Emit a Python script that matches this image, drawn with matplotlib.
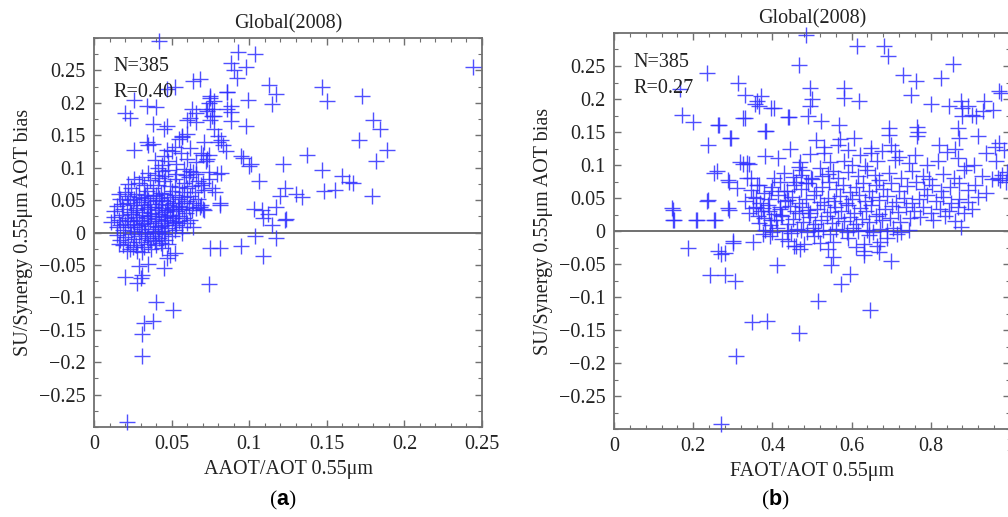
import matplotlib
matplotlib.use("Agg")
import matplotlib.pyplot as plt
from matplotlib.ticker import MultipleLocator, FuncFormatter

plt.rcParams['font.family'] = ['Liberation Serif', 'DejaVu Serif']
plt.rcParams['mathtext.fontset'] = 'custom'
plt.rcParams['mathtext.rm'] = 'Liberation Sans'
plt.rcParams['mathtext.bf'] = 'Liberation Sans:bold'

title = 'Global(2008)'
ylabel = 'SU/Synergy 0.55\u03bcm AOT bias'
xlabel_a = 'AAOT/AOT 0.55\u03bcm'
xlabel_b = 'FAOT/AOT 0.55\u03bcm'
stats_a = ['N=385', 'R=0.40']
stats_b = ['N=385', 'R=0.27']

# ---- panel (a): AAOT/AOT ratio vs bias ----
a_ratio = [
    0.042, 0.093, 0.104, 0.088, 0.098, 0.090, 0.092, 0.244, 0.064, 0.068,
    0.047, 0.052, 0.113, 0.117, 0.147, 0.150, 0.173, 0.115, 0.099, 0.086,
    0.088, 0.020, 0.023, 0.026, 0.034, 0.040, 0.075, 0.077, 0.063, 0.066,
    0.073, 0.077, 0.075, 0.062, 0.066, 0.060, 0.098, 0.038, 0.047, 0.045,
    0.026, 0.034, 0.035, 0.038, 0.057, 0.060, 0.055, 0.180, 0.184, 0.171,
    0.189, 0.182, 0.179, 0.137, 0.147, 0.122, 0.096, 0.101, 0.106, 0.160,
    0.164, 0.167, 0.155, 0.148, 0.123, 0.120, 0.130, 0.134, 0.081, 0.103,
    0.108, 0.117, 0.109, 0.115, 0.124, 0.123, 0.104, 0.117, 0.075, 0.081,
    0.095, 0.109, 0.020, 0.028, 0.030, 0.031, 0.029, 0.035, 0.045, 0.047,
    0.049, 0.052, 0.040, 0.051, 0.032, 0.038, 0.031, 0.031, 0.021, 0.074,
    # around x 0.07-0.09
    0.075, 0.074, 0.076, 0.076, 0.072, 0.086, 0.086, 0.088, 0.088, 0.077,
    0.080, 0.082, 0.083, 0.085, 0.070, 0.074, 0.072, 0.095, 0.100, 0.082,
    0.079, 0.074, 0.070, 0.068, 0.070, 0.081, 0.112,
    # cluster y 0.10-0.15
    0.041, 0.044, 0.048, 0.053, 0.050, 0.060, 0.069, 0.073, 0.064, 0.074,
    0.045, 0.056, 0.039, 0.066, 0.058, 0.047, 0.062, 0.052, 0.080, 0.057,
    0.071,
    # cluster y 0.06-0.10
    0.029, 0.032, 0.036, 0.041, 0.045, 0.049, 0.052, 0.055, 0.058, 0.061,
    0.063, 0.067, 0.071, 0.024, 0.020, 0.027, 0.034, 0.038, 0.043, 0.046,
    0.050, 0.053, 0.057, 0.060, 0.065, 0.069, 0.039, 0.044, 0.035, 0.031,
    0.048, 0.042, 0.016, 0.022, 0.026, 0.062, 0.076, 0.078, 0.059, 0.066,
    # cluster y 0.03-0.06
    0.013, 0.015, 0.017, 0.019, 0.021, 0.022, 0.024, 0.025, 0.026, 0.028,
    0.029, 0.030, 0.031, 0.032, 0.033, 0.034, 0.035, 0.036, 0.037, 0.038,
    0.039, 0.040, 0.041, 0.042, 0.043, 0.044, 0.045, 0.046, 0.047, 0.048,
    0.049, 0.050, 0.051, 0.052, 0.053, 0.054, 0.055, 0.056, 0.057, 0.058,
    0.059, 0.060, 0.061, 0.062, 0.063, 0.064, 0.066, 0.067, 0.069, 0.071,
    0.018, 0.023, 0.027, 0.032, 0.036, 0.040, 0.044, 0.047, 0.051, 0.055,
    # cluster y 0.00-0.03
    0.011, 0.013, 0.015, 0.016, 0.018, 0.019, 0.020, 0.021, 0.023, 0.024,
    0.025, 0.026, 0.027, 0.028, 0.029, 0.030, 0.031, 0.032, 0.033, 0.034,
    0.035, 0.036, 0.037, 0.038, 0.039, 0.040, 0.041, 0.042, 0.043, 0.044,
    0.045, 0.046, 0.047, 0.048, 0.049, 0.050, 0.051, 0.052, 0.053, 0.054,
    0.055, 0.057, 0.058, 0.060, 0.062, 0.064, 0.017, 0.022, 0.026, 0.031,
    0.035, 0.039, 0.043, 0.047, 0.052, 0.057,
    # cluster y -0.03-0.00
    0.015, 0.017, 0.019, 0.020, 0.022, 0.023, 0.024, 0.026, 0.027, 0.028,
    0.029, 0.030, 0.032, 0.033, 0.034, 0.035, 0.037, 0.038, 0.039, 0.040,
    0.042, 0.043, 0.045, 0.046, 0.048, 0.050, 0.021, 0.025, 0.031, 0.036,
    0.041, 0.044, 0.016,
]
a_bias = [
    0.296, 0.279, 0.276, 0.262, 0.256, 0.251, 0.239, 0.256, 0.233, 0.236,
    0.221, 0.224, 0.227, 0.213, 0.224, 0.203, 0.210, 0.198, 0.205, 0.216,
    0.195, 0.185, 0.177, 0.205, 0.195, 0.194, 0.210, 0.203, 0.190, 0.185,
    0.188, 0.180, 0.174, 0.177, 0.170, 0.174, 0.164, 0.167, 0.164, 0.160,
    0.128, 0.139, 0.135, 0.137, 0.149, 0.152, 0.144, 0.174, 0.159, 0.143,
    0.128, 0.110, 0.056, 0.120, 0.097, 0.105, 0.115, 0.105, 0.079, 0.087,
    0.078, 0.077, 0.066, 0.064, 0.069, 0.056, 0.059, 0.054, 0.043, 0.036,
    0.035, 0.040, 0.023, 0.012, 0.021, 0.019, -0.006, -0.008, -0.024, -0.024,
    -0.021, -0.037, -0.068, -0.078, -0.070, -0.066, -0.052, -0.049, -0.055, -0.040,
    -0.035, -0.032, -0.107, -0.120, -0.139, -0.137, -0.157, -0.191, -0.293, -0.080,
    0.208, 0.200, 0.190, 0.180, 0.190, 0.216, 0.190, 0.186, 0.172, 0.159,
    0.149, 0.142, 0.135, 0.125, 0.120, 0.120, 0.110, 0.118, 0.102, 0.092,
    0.090, 0.083, 0.077, 0.040, 0.036, 0.045, 0.028,
    0.100, 0.104, 0.110, 0.105, 0.125, 0.113, 0.123, 0.113, 0.094, 0.094,
    0.118, 0.122, 0.112, 0.108, 0.098, 0.128, 0.131, 0.132, 0.139, 0.147,
    0.140,
    0.077, 0.073, 0.081, 0.074, 0.079, 0.072, 0.083, 0.070, 0.077, 0.086,
    0.071, 0.080, 0.066, 0.068, 0.062, 0.060, 0.064, 0.068, 0.061, 0.087,
    0.064, 0.091, 0.062, 0.068, 0.063, 0.073, 0.088, 0.095, 0.092, 0.085,
    0.097, 0.084, 0.060, 0.075, 0.083, 0.095, 0.068, 0.062, 0.089, 0.091,
    0.033, 0.041, 0.052, 0.037, 0.046, 0.057, 0.031, 0.043, 0.051, 0.038,
    0.055, 0.047, 0.032, 0.042, 0.058, 0.036, 0.050, 0.044, 0.030, 0.056,
    0.040, 0.048, 0.034, 0.053, 0.044, 0.038, 0.059, 0.031, 0.049, 0.042,
    0.055, 0.036, 0.046, 0.058, 0.033, 0.041, 0.052, 0.045, 0.037, 0.055,
    0.030, 0.048, 0.040, 0.057, 0.034, 0.046, 0.038, 0.051, 0.043, 0.035,
    0.044, 0.050, 0.034, 0.053, 0.039, 0.058, 0.050, 0.035, 0.040, 0.036,
    0.016, 0.024, 0.008, 0.019, 0.027, 0.004, 0.013, 0.022, 0.009, 0.028,
    0.017, 0.002, 0.024, 0.012, 0.020, 0.006, 0.027, 0.015, 0.001, 0.022,
    0.010, 0.018, 0.026, 0.005, 0.014, 0.021, 0.008, 0.028, 0.017, 0.003,
    0.024, 0.012, 0.019, 0.007, 0.027, 0.015, 0.022, 0.004, 0.011, 0.026,
    0.018, 0.008, 0.023, 0.014, 0.020, 0.009, 0.012, 0.018, 0.009, 0.013,
    0.025, 0.002, 0.010, 0.026, 0.016, 0.000,
    -0.004, -0.012, -0.020, -0.007, -0.015, -0.026, -0.003, -0.010, -0.019, -0.028,
    -0.006, -0.014, -0.022, -0.002, -0.009, -0.017, -0.025, -0.005, -0.013, -0.020,
    -0.008, -0.016, -0.003, -0.011, -0.018, -0.006, -0.029, -0.022, -0.030, -0.012,
    -0.001, -0.024, -0.018,
]

# ---- panel (b): FAOT/AOT ratio vs bias ----
b_ratio = [
    0.486, 0.613, 0.681, 0.691, 0.468, 0.856, 0.235, 0.167, 0.314, 0.332,
    0.370, 0.362, 0.355, 0.403, 0.332, 0.441, 0.496, 0.500, 0.496, 0.489,
    0.522, 0.580, 0.580, 0.618, 0.729, 0.762, 0.749, 0.825, 0.800, 0.846,
    0.876, 0.878, 0.880, 0.895, 0.905, 0.914, 0.932, 0.934, 0.957, 0.977,
    0.172, 0.200, 0.263, 0.238, 0.294, 0.382, 0.382, 0.319, 0.336, 0.260,
    0.288, 0.310, 0.336, 0.146, 0.149, 0.210, 0.238, 0.255, 0.288, 0.187,
    0.263, 0.270, 0.280, 0.300, 0.243, 0.281, 0.306, 0.412, 0.349, 0.387,
    0.466, 0.309, 0.271, 0.516, 0.646, 0.597, 0.572, 0.549, 0.553, 0.440,
    0.455, 0.470, 0.480, 0.352, 0.631, 0.631, 0.632, 0.664, 0.672, 0.668,
    0.700, 0.876, 0.554, 0.300, 0.376, 0.460, 0.567, 0.570, 0.565, 0.605,
    0.509, 0.530, 0.530, 0.694, 0.694, 0.766, 0.768, 0.766, 0.868, 0.870,
    0.918, 0.972, 0.985, 0.972, 0.821, 0.840, 0.868, 0.909, 0.965, 0.970,
    0.975, 0.980, 0.648, 0.650, 0.678, 0.710, 0.720, 0.710, 0.744, 0.620,
    0.600, 0.580, 0.665, 0.660, 0.552, 0.520, 0.525, 0.817, 0.780,
    # left-hand scatter
    0.367, 0.397, 0.327, 0.439, 0.266, 0.295, 0.384, 0.325, 0.342, 0.253,
    0.291, 0.346, 0.367, 0.468, 0.473, 0.460, 0.485, 0.498, 0.397, 0.430,
    0.439, 0.359, 0.350, 0.376, 0.392, 0.236, 0.291, 0.148, 0.152, 0.207,
    0.253, 0.468, 0.489, 0.418, 0.422, 0.363, 0.397,
    # band y ~ 0
    0.382, 0.398, 0.412, 0.436, 0.448, 0.463, 0.472, 0.488, 0.502, 0.515,
    0.528, 0.545, 0.560, 0.575, 0.588, 0.603, 0.615, 0.640, 0.655, 0.672,
    0.690, 0.705, 0.725, 0.745,
    # band y 0.01-0.02
    0.365, 0.380, 0.395, 0.410, 0.425, 0.440, 0.452, 0.478, 0.492, 0.508,
    0.522, 0.538, 0.551, 0.566, 0.582, 0.596, 0.612, 0.627, 0.645, 0.662,
    0.676, 0.698, 0.722, 0.748, 0.772, 0.805, 0.835, 0.860,
    # band y 0.025-0.04
    0.340, 0.358, 0.372, 0.388, 0.405, 0.420, 0.445, 0.458, 0.475, 0.495,
    0.512, 0.530, 0.545, 0.558, 0.572, 0.590, 0.605, 0.620, 0.636, 0.650,
    0.668, 0.685, 0.703, 0.718, 0.738, 0.758, 0.780, 0.800, 0.822, 0.845,
    0.868, 0.885, 0.905,
    # band y 0.04-0.055
    0.330, 0.352, 0.368, 0.392, 0.415, 0.432, 0.450, 0.468, 0.485, 0.505,
    0.520, 0.540, 0.556, 0.570, 0.586, 0.600, 0.618, 0.634, 0.652, 0.670,
    0.690, 0.712, 0.732, 0.752, 0.770, 0.790, 0.812, 0.832, 0.850, 0.872,
    0.895, 0.920,
    # band y 0.06-0.075
    0.345, 0.362, 0.378, 0.400, 0.418, 0.438, 0.455, 0.472, 0.490, 0.510,
    0.526, 0.542, 0.560, 0.578, 0.595, 0.610, 0.628, 0.645, 0.662, 0.680,
    0.700, 0.720, 0.740, 0.762, 0.782, 0.802, 0.825, 0.848, 0.870, 0.893,
    0.912, 0.940,
    # band y 0.08-0.095
    0.405, 0.430, 0.452, 0.476, 0.500, 0.540, 0.565, 0.590, 0.615, 0.640,
    0.668, 0.695, 0.725, 0.752, 0.795, 0.830, 0.858, 0.885, 0.930, 0.955,
    0.990, 0.992,
    # band y 0.10-0.13
    0.415, 0.445, 0.470, 0.495, 0.545, 0.590, 0.635, 0.700, 0.760, 0.790,
    0.860, 0.890, 0.940, 0.962,
    # just below zero
    0.395, 0.425, 0.505, 0.520, 0.590, 0.610, 0.645, 0.690, 0.715, 0.540,
]
b_bias = [
    0.297, 0.280, 0.280, 0.265, 0.252, 0.253, 0.239, 0.215, 0.224, 0.206,
    0.204, 0.197, 0.192, 0.186, 0.171, 0.173, 0.216, 0.200, 0.190, 0.174,
    0.166, 0.217, 0.201, 0.197, 0.237, 0.227, 0.206, 0.232, 0.192, 0.189,
    0.197, 0.186, 0.174, 0.190, 0.176, 0.174, 0.182, 0.197, 0.183, 0.209,
    0.176, 0.165, 0.161, 0.130, 0.141, 0.151, 0.113, 0.104, 0.103, 0.091,
    0.078, 0.065, 0.080, 0.035, 0.016, 0.017, 0.047, 0.016, 0.035, -0.026,
    -0.030, -0.035, -0.033, -0.018, -0.067, -0.067, -0.076, -0.051, -0.138, -0.136,
    -0.155, -0.189, -0.292, -0.106, -0.120, -0.065, -0.080, -0.051, -0.040, -0.015,
    -0.022, -0.027, -0.020, -0.017, -0.020, -0.030, -0.037, -0.022, -0.016, -0.032,
    -0.045, 0.006, -0.016, -0.015, -0.005, -0.023, 0.160, 0.140, 0.130, 0.141,
    0.138, 0.128, 0.118, 0.156, 0.146, 0.158, 0.150, 0.144, 0.156, 0.141,
    0.144, 0.133, 0.123, 0.212, 0.130, 0.120, 0.110, 0.100, 0.106, 0.080,
    0.077, 0.085, 0.126, 0.118, 0.121, 0.121, 0.112, 0.107, 0.103, 0.115,
    0.100, 0.106, 0.106, 0.085, 0.091, 0.095, 0.083, 0.106, 0.083,
    0.190, 0.186, 0.171, 0.172, 0.160, 0.141, 0.151, 0.102, 0.102, 0.088,
    0.075, 0.081, 0.070, 0.097, 0.085, 0.075, 0.072, 0.081, 0.060, 0.060,
    0.047, 0.050, 0.035, 0.035, 0.030, 0.045, 0.032, 0.032, 0.016, 0.017,
    0.016, 0.027, 0.032, 0.037, 0.025, 0.022, 0.017,
    0.002, -0.001, 0.004, 0.000, -0.003, 0.003, 0.001, -0.002, 0.005, 0.000,
    0.002, -0.004, 0.003, 0.001, -0.002, 0.004, 0.000, 0.002, -0.001, 0.003,
    0.000, 0.005, -0.002, 0.001,
    0.012, 0.020, 0.009, 0.016, 0.022, 0.011, 0.018, 0.013, 0.021, 0.010,
    0.017, 0.022, 0.012, 0.019, 0.015, 0.021, 0.011, 0.018, 0.013, 0.022,
    0.016, 0.020, 0.014, 0.019, 0.021, 0.017, 0.022, 0.015,
    0.028, 0.036, 0.030, 0.039, 0.026, 0.033, 0.038, 0.030, 0.036, 0.027,
    0.034, 0.040, 0.029, 0.037, 0.031, 0.040, 0.027, 0.035, 0.030, 0.039,
    0.026, 0.034, 0.038, 0.029, 0.036, 0.031, 0.037, 0.028, 0.034, 0.030,
    0.036, 0.027, 0.033,
    0.046, 0.052, 0.043, 0.049, 0.054, 0.045, 0.051, 0.043, 0.048, 0.055,
    0.044, 0.050, 0.046, 0.053, 0.042, 0.049, 0.054, 0.045, 0.051, 0.047,
    0.053, 0.044, 0.050, 0.042, 0.048, 0.054, 0.046, 0.051, 0.043, 0.049,
    0.044, 0.052,
    0.062, 0.070, 0.058, 0.066, 0.074, 0.061, 0.069, 0.063, 0.072, 0.060,
    0.067, 0.075, 0.063, 0.070, 0.059, 0.066, 0.073, 0.061, 0.069, 0.064,
    0.072, 0.060, 0.068, 0.074, 0.063, 0.070, 0.060, 0.067, 0.073, 0.062,
    0.069, 0.058,
    0.080, 0.088, 0.082, 0.092, 0.079, 0.086, 0.080, 0.090, 0.083, 0.093,
    0.078, 0.088, 0.081, 0.091, 0.079, 0.087, 0.081, 0.092, 0.084, 0.079,
    0.075, 0.090,
    0.110, 0.125, 0.105, 0.116, 0.104, 0.122, 0.098, 0.130, 0.115, 0.100,
    0.125, 0.098, 0.118, 0.128,
    -0.008, -0.012, -0.008, -0.018, -0.010, -0.024, -0.006, -0.010, -0.004, -0.028,
]
assert len(a_ratio) == len(a_bias), (len(a_ratio), len(a_bias))
assert len(b_ratio) == len(b_bias), (len(b_ratio), len(b_bias))

FS = 14.5
GREY = '#707070'
BLUE = '#3030ff'


def fmt(v, pos):
    s = '{:g}'.format(round(v, 4))
    return s.replace('-', '\u2212')


def style_axes(ax, xmax, xmajor, xminor):
    ax.set_xlim(0, xmax)
    ax.set_ylim(-0.3, 0.3)
    ax.xaxis.set_major_locator(MultipleLocator(xmajor))
    ax.xaxis.set_minor_locator(MultipleLocator(xminor))
    ax.set_yticks([-0.25, -0.2, -0.15, -0.1, -0.05, 0, 0.05, 0.1, 0.15, 0.2, 0.25])
    ax.yaxis.set_minor_locator(MultipleLocator(0.025))
    ax.xaxis.set_major_formatter(FuncFormatter(fmt))
    ax.yaxis.set_major_formatter(FuncFormatter(fmt))
    ax.tick_params(which='both', direction='in', top=True, right=True,
                   color=GREY, labelsize=FS, labelcolor='#222222')
    ax.tick_params(which='major', length=5, width=1.0, pad=6)
    ax.tick_params(which='minor', length=3, width=0.8)
    for sp in ax.spines.values():
        sp.set_color(GREY)
        sp.set_linewidth(1.3)
    ax.axhline(0, color=GREY, lw=1.4, zorder=1)


fig = plt.figure(figsize=(10.08, 5.17), dpi=100)
ax_a = fig.add_axes([94 / 1008, 90 / 517, 388 / 1008, 389 / 517])
ax_b = fig.add_axes([614 / 1008, 88 / 517, 396 / 1008, 396 / 517])

for ax, xs, ys, stats, xl, xmax, xmaj, xmin in (
        (ax_a, a_ratio, a_bias, stats_a, xlabel_a, 0.25, 0.05, 0.01),
        (ax_b, b_ratio, b_bias, stats_b, xlabel_b, 1.0, 0.2, 0.04)):
    style_axes(ax, xmax, xmaj, xmin)
    ax.plot(xs, ys, linestyle='none', marker='+', markersize=11,
            markeredgewidth=1.0, color=BLUE, alpha=0.85, zorder=3, clip_on=False)
    ax.text(0.05, 0.95, stats[0], transform=ax.transAxes, fontsize=FS,
            va='top', ha='left', color='#222222')
    ax.text(0.05, 0.885, stats[1], transform=ax.transAxes, fontsize=FS,
            va='top', ha='left', color='#222222')
    ax.set_title(title, fontsize=FS, pad=7, color='#222222')
    ax.set_xlabel(xl, fontsize=FS, labelpad=4, color='#222222')
    ax.set_ylabel(ylabel, fontsize=FS, labelpad=4, color='#222222')

fig.text(283 / 1008, 1 - 500 / 517, r'($\mathbf{a}$)', fontsize=FS + 1,
         ha='center', va='center')
fig.text(775 / 1008, 1 - 500 / 517, r'($\mathbf{b}$)', fontsize=FS + 1,
         ha='center', va='center')

fig.savefig('out.png', dpi=100)
